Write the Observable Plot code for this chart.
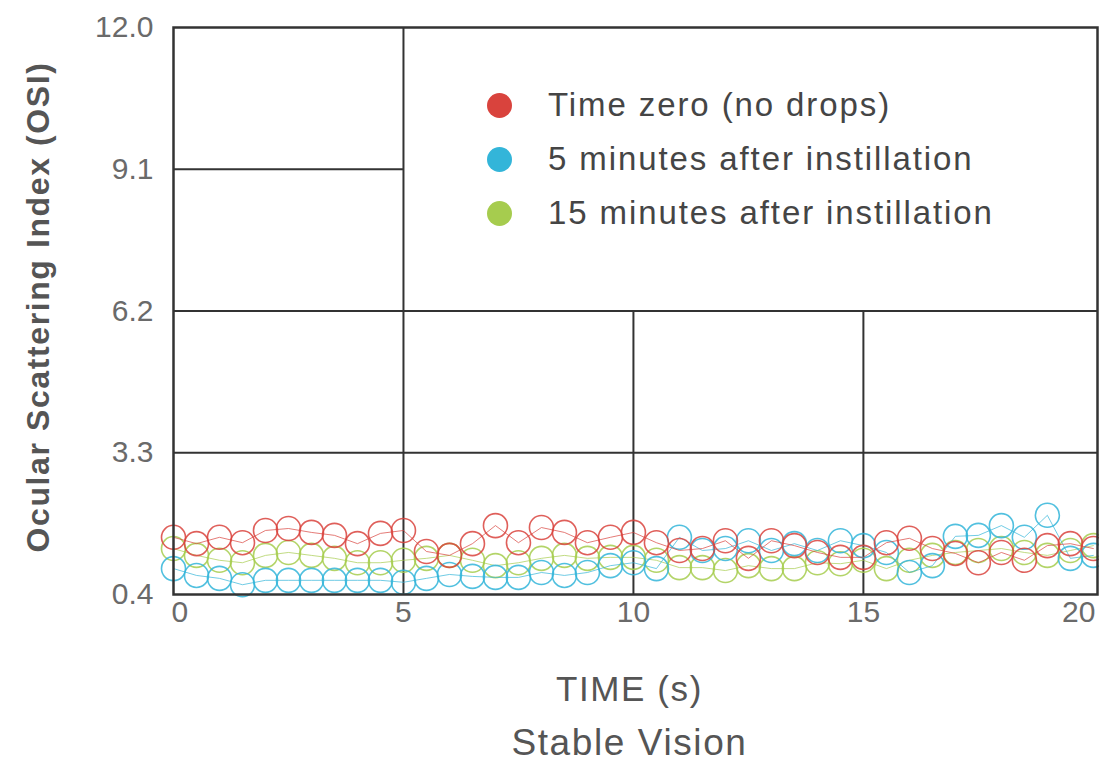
<!DOCTYPE html>
<html>
<head>
<meta charset="utf-8">
<script src="https://cdn.jsdelivr.net/npm/d3@7"></script>
<script src="https://cdn.jsdelivr.net/npm/@observablehq/plot@0.6"></script>
<style>
  body { margin: 0; background: #fff; }
  #wrap { position: relative; width: 1099px; height: 762px; }
  #wrap svg g[aria-label="text"] text { letter-spacing: 1.6px; }
  #legend { position: absolute; left: 487px; top: 78px; font-family: "Liberation Sans", Arial, sans-serif; font-size: 33px; letter-spacing: 1.9px; color: #454545; }
  .row { display: flex; align-items: center; height: 54px; }
  .sw { width: 25px; height: 25px; border-radius: 50%; margin-right: 36px; }
</style>
</head>
<body>
<div id="wrap"><div id="legend"></div></div>
<script>
// --- data ---
const times = [0,0.5,1,1.5,2,2.5,3,3.5,4,4.5,5,5.5,6,6.5,7,7.5,8,8.5,9,9.5,10,10.5,11,11.5,12,12.5,13,13.5,14,14.5,15,15.5,16,16.5,17,17.5,18,18.5,19,19.5,20];
const timeZero = [1.57,1.44,1.57,1.46,1.71,1.75,1.67,1.61,1.44,1.65,1.71,1.28,1.20,1.44,1.81,1.46,1.77,1.67,1.46,1.57,1.67,1.46,1.30,1.34,1.50,1.14,1.50,1.40,1.26,1.16,1.16,1.46,1.55,1.34,1.24,1.05,1.26,1.10,1.40,1.44,1.34];
const min5 = [0.93,0.79,0.73,0.60,0.69,0.69,0.69,0.69,0.69,0.69,0.65,0.73,0.81,0.77,0.75,0.75,0.85,0.79,0.85,0.99,1.05,0.93,1.57,1.30,1.34,1.50,1.30,1.44,1.30,1.50,1.40,1.26,0.85,0.99,1.59,1.61,1.81,1.57,2.02,1.14,1.20];
const min15 = [1.34,1.20,1.10,1.05,1.20,1.26,1.20,1.14,1.05,1.05,1.10,1.14,1.20,1.10,0.99,1.05,1.14,1.20,1.14,1.16,1.16,1.10,0.95,0.95,0.89,0.99,0.93,0.93,1.05,1.03,1.10,0.93,1.10,1.20,1.26,1.30,1.34,1.26,1.20,1.30,1.40];
const seriesNames = ["Time zero (no drops)", "5 minutes after instillation", "15 minutes after instillation"];
const seriesColors = ["#d9433d", "#33b5d9", "#a6cc4e"];
const yTicks = [0.4, 3.3, 6.2, 9.1, 12.0];
const xTicks = [0, 5, 10, 15, 20];
const xLabel = "TIME (s)";
const subLabel = "Stable Vision";
const yLabel = "Ocular Scattering Index (OSI)";

// --- build ---
const seriesValues = [timeZero, min5, min15];
const rows = [];
seriesValues.forEach((vals, si) => vals.forEach((v, i) => rows.push({t: times[i], v, s: seriesNames[si]})));
const drawOrder = [2, 1, 0];
const xMax = 20.09;
const gridColor = "#333";
const tickStyle = {tickSize: 0, fontSize: 30, fill: "#6a6a6a", label: null};

const marks = [
  Plot.ruleY(yTicks.slice(1, 4), {x1: 0, x2: d => d === 9.1 ? 5 : xMax, stroke: gridColor, strokeWidth: 2}),
  Plot.ruleX(xTicks.slice(1, 4), {y1: 0.4, y2: d => d === 5 ? 12 : 6.2, stroke: gridColor, strokeWidth: 2}),
  Plot.axisY({...tickStyle, ticks: yTicks, tickFormat: d => d.toFixed(1), tickPadding: 20}),
  Plot.axisX({...tickStyle, ticks: xTicks.slice(1, 4), tickPadding: 6}),
  Plot.axisX({...tickStyle, ticks: xTicks.slice(0, 1), tickPadding: 6, textAnchor: "start", dx: -2}),
  Plot.axisX({...tickStyle, ticks: xTicks.slice(4), tickPadding: 6, textAnchor: "end", dx: 2})
];
drawOrder.forEach(si => {
  const d = rows.filter(r => r.s === seriesNames[si]);
  marks.push(Plot.line(d, {x: "t", y: "v", stroke: seriesColors[si], strokeWidth: 1, strokeOpacity: 0.7}));
  marks.push(Plot.dot(d, {x: "t", y: "v", r: 12, stroke: seriesColors[si], strokeWidth: 1.6, strokeOpacity: 0.85, fill: "none"}));
});
marks.push(
  Plot.frame({stroke: "#333", strokeWidth: 2.5}),
  Plot.text([yLabel], {frameAnchor: "left", textAnchor: "middle", dx: -135, dy: -4, rotate: -90, fontSize: 32, fontWeight: "bold", fill: "#555"}),
  Plot.text([xLabel], {frameAnchor: "bottom", dx: -6, dy: 106, fontSize: 35, fill: "#555"}),
  Plot.text([subLabel], {frameAnchor: "bottom", dx: -6, dy: 160, fontSize: 37, fill: "#555"})
);

const chart = Plot.plot({
  width: 1099, height: 762,
  marginTop: 27, marginBottom: 168, marginLeft: 173, marginRight: 2,
  x: {domain: [0, xMax]},
  y: {domain: [0.4, 12.0]},
  style: {fontFamily: "'Liberation Sans', Arial, sans-serif", background: "white"},
  marks
});
const wrap = document.getElementById("wrap");
wrap.insertBefore(chart, wrap.firstChild);

const legend = document.getElementById("legend");
seriesNames.forEach((n, i) => {
  const row = document.createElement("div");
  row.className = "row";
  const sw = document.createElement("div");
  sw.className = "sw";
  sw.style.background = seriesColors[i];
  const t = document.createElement("span");
  t.textContent = n;
  row.appendChild(sw); row.appendChild(t);
  legend.appendChild(row);
});
</script>
</body>
</html>
